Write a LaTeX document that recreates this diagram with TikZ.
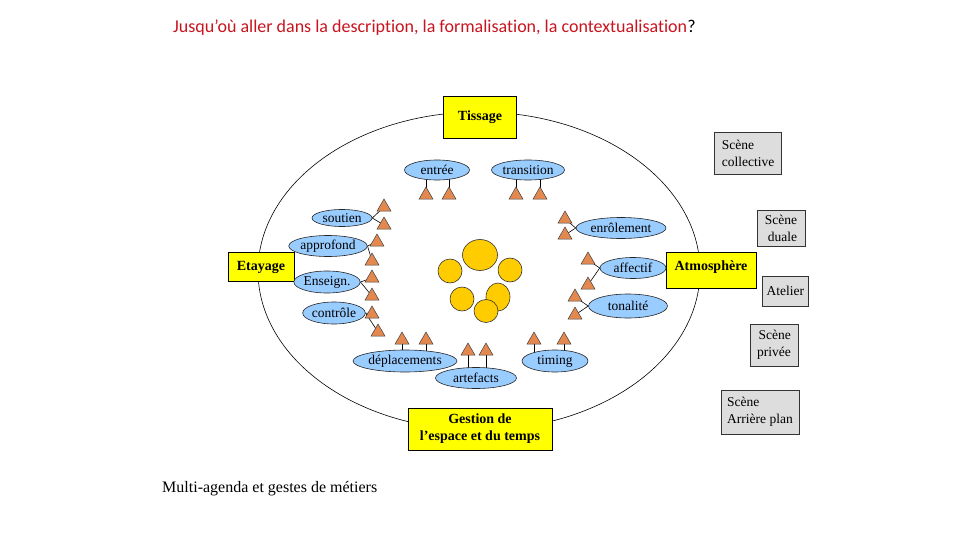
\documentclass[tikz,border=0pt]{standalone}
\usepackage{fontspec}
\setmainfont{Liberation Serif}
\newfontfamily\titlefont[Ligatures=NoCommon]{Carlito}
\usetikzlibrary{shapes.geometric}
\pgfdeclarelayer{bg}
\pgfsetlayers{bg,main}
\definecolor{boxyellow}{RGB}{255,255,0}
\definecolor{ellblue}{RGB}{153,204,255}
\definecolor{triorange}{RGB}{227,137,80}
\definecolor{gold}{RGB}{255,204,0}
\definecolor{greybox}{RGB}{221,221,221}
\definecolor{titlered}{RGB}{200,20,30}
\tikzset{
  ybox/.style={draw=black, fill=boxyellow, line width=0.8pt, font=\fontsize{14}{17}\selectfont\bfseries, inner sep=0pt, align=center},
  gbox/.style={draw=black!80, fill=greybox, line width=0.7pt, font=\fontsize{13.5}{17}\selectfont, inner sep=0pt},
  ell/.style={ellipse, draw=black!85, fill=ellblue, line width=0.6pt, inner sep=0pt, font=\fontsize{13.5}{15}\selectfont},
  tri/.style={regular polygon, regular polygon sides=3, minimum size=16pt, inner sep=0pt, fill=triorange, draw=black!75, line width=0.5pt},
  ball/.style={ellipse, fill=gold, draw=black!80, line width=0.6pt, inner sep=0pt},
  link/.style={black, line width=0.6pt}
}
\begin{document}
\begin{tikzpicture}[x=1pt,y=-1pt]
\useasboundingbox (0,0) rectangle (960,540);
% title
\node[anchor=base west, inner sep=0pt, font=\titlefont\fontsize{18}{21}\selectfont] (title) at (173,33)
  {\textcolor{titlered}{Jusqu’où aller dans la description, la formalisation, la contextualisation}?};
% big ellipse
\draw[black, line width=0.6pt] (479,271) ellipse [x radius=221, y radius=159];
% yellow boxes
\node[ybox, minimum width=73pt, minimum height=42pt] (tissage) at (480,117) {Tissage};
\node[ybox, minimum width=66pt, minimum height=29pt] (etayage) at (261,267) {Etayage};
\node[ybox, minimum width=90pt, minimum height=36pt, text depth=8pt] (atmo) at (711,270) {Atmosphère};
\node[ybox, minimum width=144pt, minimum height=42pt] (gestion) at (480,429) {Gestion de\\l’espace et du temps};
% grey boxes
\node[gbox, minimum width=67pt, minimum height=42pt, align=left] (collective) at (748,153) {Scène\\collective};
\node[gbox, minimum width=48pt, minimum height=36pt, align=right] (duale) at (781,228) {Scène\\duale};
\node[gbox, minimum width=46pt, minimum height=30pt, anchor=west] (atelier) at (762,291) {Atelier\hspace{6pt}};
\node[gbox, minimum width=48pt, minimum height=42pt, align=right] (privee) at (774,345) {Scène\\privée};
\node[gbox, minimum width=78pt, minimum height=44pt, align=left] (arriere) at (760,412) {Scène\\Arrière plan};
% blue ellipses
\node[ell, minimum width=65pt, minimum height=20pt] (entree) at (437,170) {entrée};
\node[ell, minimum width=73pt, minimum height=20pt] (transition) at (528,170) {transition};
\node[ell, minimum width=60pt, minimum height=17pt] (soutien) at (342,218) {soutien};
\node[ell, minimum width=68pt, minimum height=21pt] (approfond) at (328,246) {approfond};
\node[ell, minimum width=64pt, minimum height=22pt] (enseign) at (327,282) {Enseign.};
\node[ell, minimum width=56pt, minimum height=22pt] (controle) at (334,313) {contrôle};
\node[ell, minimum width=90pt, minimum height=21pt] (enrolement) at (621,228) {enrôlement};
\node[ell, minimum width=66pt, minimum height=21pt] (affectif) at (633,268) {affectif};
\node[ell, minimum width=79pt, minimum height=24pt] (tonalite) at (628,306) {tonalité};
\node[ell, minimum width=89pt, minimum height=22pt] (deplacements) at (405,361) {déplacements};
\node[ell, minimum width=81pt, minimum height=21pt] (artefacts) at (476,378) {artefacts};
\node[ell, minimum width=66pt, minimum height=22pt] (timing) at (555,361) {timing};
% triangles
\node[tri] (te1) at (426,195) {};
\node[tri] (te2) at (449,195) {};
\node[tri] (tt1) at (516,195) {};
\node[tri] (tt2) at (540,195) {};
\node[tri] (ts1) at (384,207) {};
\node[tri] (ts2) at (384,225) {};
\node[tri] (ta1) at (377,242) {};
\node[tri] (ta2) at (372,261) {};
\node[tri] (tn1) at (372,278) {};
\node[tri] (tn2) at (372,296) {};
\node[tri] (tc1) at (372,314) {};
\node[tri] (tc2) at (378,332) {};
\node[tri] (td1) at (402,340) {};
\node[tri] (td2) at (426,340) {};
\node[tri] (tf1) at (468,351) {};
\node[tri] (tf2) at (486,351) {};
\node[tri] (tg1) at (534,340) {};
\node[tri] (tg2) at (564,340) {};
\node[tri] (tr1) at (565,219) {};
\node[tri] (tr2) at (565,235) {};
\node[tri] (tx1) at (588,260) {};
\node[tri] (tx2) at (588,285) {};
\node[tri] (to1) at (575,297) {};
\node[tri] (to2) at (575,315) {};
% gold balls
\node[ball, minimum width=35pt, minimum height=31pt] (b1) at (480,255) {};
\node[ball, minimum width=24pt, minimum height=24pt] (b2) at (450,271) {};
\node[ball, minimum width=24pt, minimum height=24pt] (b3) at (510,270) {};
\node[ball, minimum width=24pt, minimum height=24pt] (b4) at (462,299) {};
\node[ball, minimum width=24pt, minimum height=28pt] (b5) at (498,297) {};
\node[ball, minimum width=24pt, minimum height=23pt] (b6) at (486,311) {};
% footer
\node[anchor=base west, inner sep=0pt, font=\fontsize{16}{18}\selectfont] (footer) at (162,492) {Multi-agenda et gestes de métiers};
% connectors
\begin{pgfonlayer}{bg}
\foreach \t/\e in {te1/entree, te2/entree, tt1/transition, tt2/transition, td1/deplacements, td2/deplacements, tf1/artefacts, tf2/artefacts, tg1/timing, tg2/timing}
  \draw[link] (\t.center) -- (\t.center |- \e.center);
\foreach \t/\e in {ts1/soutien, ts2/soutien, ta1/approfond, ta2/approfond, tn1/enseign, tn2/enseign, tc1/controle, tc2/controle}
  \draw[link] (\e.east) -- (\t.center);
\foreach \t/\e in {tr1/enrolement, tr2/enrolement, tx1/affectif, tx2/affectif, to1/tonalite, to2/tonalite}
  \draw[link] (\e.west) -- (\t.center);
\end{pgfonlayer}
\end{tikzpicture}
\end{document}
